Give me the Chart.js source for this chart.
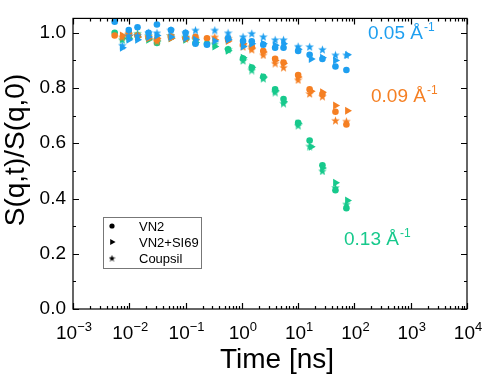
<!DOCTYPE html>
<html>
<head>
<meta charset="utf-8">
<script src="https://cdn.jsdelivr.net/npm/chart.js@4.4.1/dist/chart.umd.min.js"></script>
<style>
  body { margin: 0; background: #fff; }
  canvas { display: block; }
</style>
</head>
<body>
<canvas id="chart" width="484" height="376"></canvas>
<script>
// --- time grids (ns) per sample ---
const tVN2     = [0.0055, 0.0098, 0.014, 0.022, 0.031, 0.055, 0.1, 0.15, 0.24, 0.57, 1.05, 1.5, 2.4, 3.9, 5.5, 10, 16, 27, 46, 72];
const tSI69    = [0.0075, 0.0098, 0.014, 0.022, 0.031, 0.055, 0.1, 0.15, 0.33, 0.57, 1.05, 1.5, 2.4, 3.9, 5.5, 10, 17, 27, 46, 75];
const tCoupsil = [0.0075, 0.0098, 0.014, 0.022, 0.031, 0.055, 0.1, 0.15, 0.33, 0.57, 1.05, 1.5, 2.4, 3.9, 5.5, 10, 16, 27, 46, 72];

// --- S(q,t)/S(q,0) values ---
const q005VN2     = [1.04, 1.01, 1.02, 1.0, 1.03, 1.01, 1.0, 0.96, 0.957, 0.98, 0.97, 0.969, 0.957, 0.946, 0.946, 0.934, 0.92, 0.905, 0.878, 0.865];
const q005SI69    = [0.946, 0.975, 0.975, 0.985, 0.99, 0.985, 0.98, 0.975, 0.97, 0.975, 0.95, 0.96, 0.96, 0.955, 0.96, 0.94, 0.905, 0.91, 0.9, 0.92];
const q005Coupsil = [0.955, 0.99, 0.99, 1.0, 1.0, 1.01, 1.0, 1.01, 1.01, 1.0, 0.986, 0.998, 0.986, 0.975, 0.975, 0.951, 0.95, 0.94, 0.92, 0.92];

const q009VN2     = [0.99, 1.0, 0.99, 0.985, 0.975, 0.985, 0.98, 0.985, 0.98, 0.975, 0.958, 0.95, 0.934, 0.906, 0.892, 0.847, 0.795, 0.778, 0.714, 0.668];
const q009SI69    = [0.99, 0.99, 0.985, 0.98, 0.98, 0.98, 0.985, 0.975, 0.975, 0.97, 0.96, 0.945, 0.93, 0.9, 0.89, 0.84, 0.788, 0.785, 0.737, 0.718];
const q009Coupsil = [0.985, 0.995, 0.99, 0.985, 0.97, 0.99, 0.98, 0.98, 0.985, 0.98, 0.95, 0.94, 0.92, 0.89, 0.875, 0.83, 0.78, 0.77, 0.683, 0.68];

const q013VN2     = [1.0, 0.985, 0.99, 0.98, 0.963, 0.985, 0.98, 0.963, 0.96, 0.94, 0.907, 0.874, 0.841, 0.795, 0.76, 0.674, 0.61, 0.52, 0.43, 0.365];
const q013SI69    = [0.98, 0.98, 0.985, 0.975, 0.97, 0.98, 0.975, 0.965, 0.95, 0.935, 0.91, 0.875, 0.84, 0.79, 0.75, 0.672, 0.587, 0.51, 0.457, 0.393];
const q013Coupsil = [0.975, 0.995, 0.998, 0.99, 0.975, 0.99, 0.985, 0.975, 0.96, 0.94, 0.9, 0.865, 0.835, 0.785, 0.745, 0.665, 0.59, 0.5, 0.44, 0.38];

const qLabels = ['0.05', '0.09', '0.13'];
const sampleLabels = ['VN2', 'VN2+SI69', 'Coupsil'];
const xTickExps = [-3, -2, -1, 0, 1, 2, 3, 4];

const BLUE = '#1e9ff0';
const ORANGE = '#f57f22';
const GREEN = '#17c98c';
const FONT = '"Liberation Sans", Arial, sans-serif';

function starImage(color, size) {
    const c = document.createElement('canvas');
    c.width = size; c.height = size;
    const g = c.getContext('2d');
    g.fillStyle = color;
    g.beginPath();
    for (let i = 0; i < 10; i++) {
        const r = i % 2 ? size * 0.21 : size / 2;
        const a = -Math.PI / 2 + i * Math.PI / 5;
        const px = size / 2 + r * Math.cos(a);
        const py = size / 2 + 0.5 + r * Math.sin(a);
        if (i === 0) g.moveTo(px, py); else g.lineTo(px, py);
    }
    g.closePath();
    g.fill();
    return c;
}

function pts(times, vals) {
    return times.map((t, i) => ({ x: t, y: vals[i] }));
}

function makeSet(times, vals, color, kind) {
    const ds = { data: pts(times, vals), backgroundColor: color, borderColor: color, borderWidth: 0, showLine: false };
    if (kind === 'circle') { ds.pointStyle = 'circle'; ds.pointRadius = 3.3; }
    if (kind === 'tri') { ds.pointStyle = 'triangle'; ds.pointRadius = 4.6; ds.rotation = 90; }
    if (kind === 'star') { ds.pointStyle = starImage(color, 9); ds.pointRadius = 4.5; }
    return ds;
}

const datasets = [
    makeSet(tVN2, q005VN2, BLUE, 'circle'),
    makeSet(tSI69, q005SI69, BLUE, 'tri'),
    makeSet(tCoupsil, q005Coupsil, BLUE, 'star'),
    makeSet(tVN2, q009VN2, ORANGE, 'circle'),
    makeSet(tSI69, q009SI69, ORANGE, 'tri'),
    makeSet(tCoupsil, q009Coupsil, ORANGE, 'star'),
    makeSet(tVN2, q013VN2, GREEN, 'circle'),
    makeSet(tSI69, q013SI69, GREEN, 'tri'),
    makeSet(tCoupsil, q013Coupsil, GREEN, 'star')
];

// frame, inward ticks, labels, annotations and legend box
const decor = {
    id: 'decor',
    afterDraw(chart) {
        const ctx = chart.ctx;
        const a = chart.chartArea;
        const xs = chart.scales.x, ys = chart.scales.y;
        ctx.save();
        ctx.strokeStyle = '#000';
        ctx.lineWidth = 1.2;
        ctx.strokeRect(a.left, a.top, a.right - a.left, a.bottom - a.top);

        ctx.beginPath();
        for (let e = -3; e <= 4; e++) {
            for (let m = 1; m <= 9; m++) {
                if (e === 4 && m > 1) break;
                const px = Math.round(xs.getPixelForValue(m * Math.pow(10, e))) + 0.5;
                const len = m === 1 ? 6 : 3;
                ctx.moveTo(px, a.bottom); ctx.lineTo(px, a.bottom - len);
                ctx.moveTo(px, a.top); ctx.lineTo(px, a.top + len);
            }
        }
        for (let k = 0; k <= 10; k++) {
            const py = Math.round(ys.getPixelForValue(k / 10)) + 0.5;
            const len = k % 2 === 0 ? 6 : 3;
            ctx.moveTo(a.left, py); ctx.lineTo(a.left + len, py);
            ctx.moveTo(a.right, py); ctx.lineTo(a.right - len, py);
        }
        ctx.stroke();

        // x tick labels: 10^n
        ctx.fillStyle = '#000';
        ctx.textBaseline = 'alphabetic';
        xTickExps.forEach(e => {
            const px = xs.getPixelForValue(Math.pow(10, e));
            const base = '10', sup = String(e).replace('-', '\u2212');
            ctx.font = '19px ' + FONT;
            const wb = ctx.measureText(base).width;
            ctx.font = '13px ' + FONT;
            const ws = ctx.measureText(sup).width;
            const x0 = px - (wb + ws) / 2 + 1;
            ctx.font = '19px ' + FONT;
            ctx.textAlign = 'left';
            ctx.fillText(base, x0, 339);
            ctx.font = '13px ' + FONT;
            ctx.fillText(sup, x0 + wb, 331);
        });

        // axis titles
        ctx.font = '28px ' + FONT;
        ctx.textAlign = 'center';
        ctx.fillText('Time [ns]', 277, 368);
        ctx.save();
        ctx.translate(24, 150);
        ctx.rotate(-Math.PI / 2);
        ctx.fillText('S(q,t)/S(q,0)', 0, 0);
        ctx.restore();

        // q annotations
        const notes = [[qLabels[0], BLUE, 368, 39], [qLabels[1], ORANGE, 371, 102], [qLabels[2], GREEN, 344, 245]];
        notes.forEach(([q, col, x, y]) => {
            ctx.fillStyle = col;
            ctx.textAlign = 'left';
            ctx.font = '19px ' + FONT;
            const txt = q + ' \u00c5';
            ctx.fillText(txt, x, y);
            const w = ctx.measureText(txt).width;
            ctx.font = '12px ' + FONT;
            ctx.fillText('-1', x + w + 1, y - 8);
        });

        // legend box
        ctx.strokeStyle = '#777';
        ctx.lineWidth = 1;
        ctx.strokeRect(103.5, 217.5, 98, 51);
        ctx.fillStyle = '#000';
        const legY = [226, 242, 258];
        const styles = ['circle', 'triangle', starImage('#000', 7)];
        sampleLabels.forEach((lab, i) => {
            const opts = { pointStyle: styles[i], radius: i === 1 ? 3.6 : (i === 2 ? 3.5 : 2.6), rotation: i === 1 ? 90 : 0, borderWidth: 0 };
            ctx.fillStyle = '#000';
            ctx.strokeStyle = '#000';
            Chart.helpers.drawPoint(ctx, opts, 112, legY[i]);
            ctx.font = '13px ' + FONT;
            ctx.textAlign = 'left';
            ctx.textBaseline = 'middle';
            ctx.fillText(lab, 139, legY[i] + 1);
        });
        ctx.restore();
    }
};

new Chart(document.getElementById('chart'), {
    type: 'scatter',
    data: { datasets: datasets },
    options: {
        responsive: false,
        animation: false,
        layout: { padding: { top: 6, right: 17, left: 0, bottom: 0 } },
        plugins: { legend: { display: false }, tooltip: { enabled: false } },
        scales: {
            x: {
                type: 'logarithmic',
                min: 0.001,
                max: 10000,
                ticks: { display: false },
                grid: { display: false, drawTicks: false },
                border: { display: false },
                afterFit: s => { s.height = 67; }
            },
            y: {
                min: 0,
                max: 1.052,
                ticks: {
                    stepSize: 0.2,
                    includeBounds: false,
                    padding: 7,
                    color: '#000',
                    font: { family: FONT, size: 19 },
                    callback: v => Number(v).toFixed(1)
                },
                grid: { display: false, drawTicks: false },
                border: { display: false },
                afterFit: s => { s.width = 73; }
            }
        }
    },
    plugins: [decor]
});
</script>
</body>
</html>
